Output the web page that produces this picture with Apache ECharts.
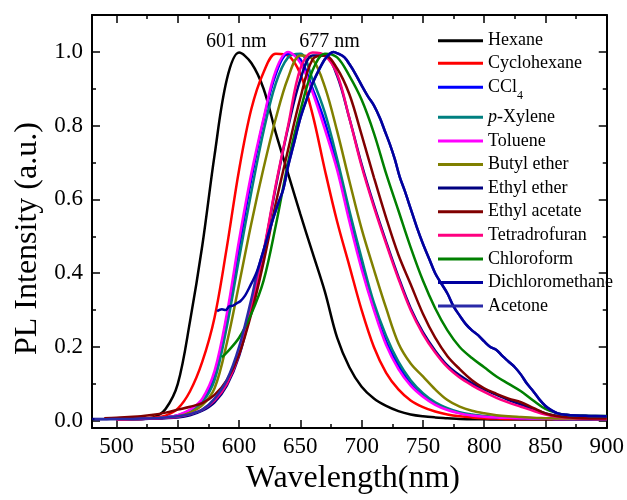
<!DOCTYPE html>
<html>
<head>
<meta charset="utf-8">
<script src="https://cdn.jsdelivr.net/npm/echarts@6/dist/echarts.min.js"></script>
<style>
html,body{margin:0;padding:0;background:#fff;}
#chart{width:627px;height:500px;}
</style>
</head>
<body>
<div id="chart"></div>
<script>
// ---- data ----
const wl = [480,490,500,510,520,530,540,550,560,570,580,590,600,610,620,630,640,650,660,670,680,690,700,710,720,730,740,750,760,770,780,790,800,810,820,830,840,850,860,870,880,890,900];

const hexane       = [null,null,0.003,0.004,0.005,0.009,0.032,0.10,0.27,0.475,0.72,0.925,0.998,0.97,0.90,0.78,0.67,0.56,0.455,0.35,0.225,0.145,0.092,0.06,0.04,0.026,0.017,0.012,0.009,0.007,0.005,0.004,0.004,0.003,0.003,0.003,0.003,0.003,0.003,0.003,0.003,0.003,0.003];
const cyclohexane  = [null,null,0.004,0.005,0.006,0.008,0.014,0.033,0.08,0.16,0.28,0.47,0.68,0.845,0.945,0.995,0.99,0.94,0.83,0.68,0.54,0.42,0.30,0.20,0.13,0.085,0.055,0.037,0.025,0.017,0.012,0.009,0.007,0.006,0.005,0.005,0.005,0.005,0.005,0.005,0.005,0.005,0.005];
const ccl4         = [null,null,0.003,0.004,0.005,0.006,0.009,0.014,0.028,0.055,0.125,0.28,0.47,0.655,0.815,0.94,0.995,0.98,0.90,0.81,0.69,0.55,0.42,0.305,0.215,0.15,0.10,0.068,0.046,0.031,0.021,0.015,0.012,0.009,0.008,0.007,0.006,0.006,0.005,0.005,0.005,0.005,0.005];
const pXylene      = [null,null,0.003,0.004,0.005,0.006,0.009,0.014,0.027,0.05,0.11,0.255,0.44,0.62,0.785,0.915,0.985,0.995,0.925,0.835,0.71,0.57,0.44,0.32,0.23,0.16,0.11,0.075,0.05,0.034,0.023,0.017,0.013,0.01,0.009,0.008,0.007,0.006,0.006,0.005,0.005,0.005,0.005];
const toluene      = [null,null,0.003,0.004,0.005,0.006,0.009,0.015,0.03,0.06,0.135,0.29,0.49,0.67,0.82,0.95,1.0,0.97,0.89,0.79,0.68,0.54,0.41,0.30,0.205,0.14,0.095,0.065,0.043,0.029,0.02,0.014,0.011,0.009,0.008,0.007,0.006,0.006,0.005,0.005,0.005,0.005,0.005];
const butylEther   = [null,null,0.003,0.004,0.005,0.006,0.008,0.012,0.022,0.042,0.088,0.21,0.37,0.535,0.685,0.82,0.93,0.99,0.98,0.905,0.785,0.65,0.52,0.41,0.305,0.21,0.155,0.12,0.085,0.056,0.038,0.027,0.02,0.015,0.012,0.01,0.008,0.007,0.006,0.006,0.006,0.006,0.006];
const ethylEther   = [0.005,0.005,0.005,0.005,0.005,0.006,0.007,0.009,0.015,0.027,0.05,0.095,0.175,0.305,0.455,0.635,0.795,0.925,0.99,0.99,0.935,0.82,0.695,0.585,0.485,0.39,0.305,0.24,0.19,0.15,0.123,0.102,0.085,0.07,0.056,0.044,0.032,0.02,0.013,0.009,0.007,0.006,0.006];
const ethylAcetate = [null,0.007,0.008,0.01,0.012,0.016,0.022,0.03,0.038,0.048,0.07,0.11,0.18,0.29,0.43,0.59,0.735,0.875,0.98,0.99,0.955,0.885,0.775,0.66,0.55,0.45,0.37,0.29,0.225,0.175,0.14,0.11,0.088,0.073,0.06,0.05,0.035,0.02,0.012,0.009,0.007,0.006,0.006];
const thf          = [null,null,0.003,0.004,0.005,0.006,0.008,0.011,0.018,0.03,0.055,0.10,0.18,0.31,0.46,0.64,0.80,0.955,0.998,0.99,0.94,0.82,0.69,0.58,0.48,0.385,0.30,0.235,0.185,0.145,0.117,0.096,0.078,0.062,0.049,0.038,0.027,0.017,0.011,0.008,0.006,0.005,0.005];

const chloroformX = [586,590,600,610,620,630,640,650,660,670,680,690,700,710,720,730,740,750,760,770,780,790,800,810,820,830,840,850,860,870,880,890,900];
const chloroformY = [0.172,0.185,0.225,0.29,0.38,0.53,0.70,0.84,0.95,0.995,0.985,0.935,0.87,0.78,0.67,0.57,0.47,0.38,0.305,0.245,0.20,0.17,0.145,0.12,0.10,0.08,0.055,0.032,0.02,0.015,0.014,0.013,0.013];

const dcmX = [582,586,589,592,595,598,601,605,609,614,618,622,627,632,636,640,644,650,655,660,665,670,674,677,681,686,690,695,701,705,710,715,719,723,727,731,735,740,745,750,755,760,765,770,775,780,785,790,795,800,805,810,815,820,825,830,835,840,845,850,855,860,867,875,885,900];
const dcmY = [0.297,0.302,0.30,0.31,0.312,0.318,0.324,0.34,0.365,0.40,0.44,0.484,0.54,0.59,0.627,0.69,0.742,0.82,0.87,0.915,0.95,0.98,0.995,1.0,0.995,0.985,0.967,0.94,0.903,0.88,0.855,0.82,0.785,0.75,0.71,0.662,0.625,0.575,0.525,0.48,0.44,0.40,0.372,0.345,0.31,0.285,0.262,0.245,0.232,0.215,0.2,0.192,0.175,0.16,0.145,0.125,0.10,0.08,0.058,0.04,0.028,0.02,0.016,0.014,0.013,0.012];

const acetoneX = [482,490,500,510,520,530,540,550,560,570,580,590,600,610,614,618,622,627,632,636,640,644,650,655,660,665,670,674,677,681,686,690,695,701,705,710,715,719,723,727,731,735,740,745,750,755,760,765,770,775,780,785,790,795,800,805,810,815,820,825,830,835,840,845,850,855,860,867,875,885,900];
const acetoneY = [0.004,0.004,0.005,0.005,0.006,0.007,0.009,0.012,0.018,0.03,0.06,0.11,0.2,0.33,0.39,0.44,0.484,0.54,0.59,0.627,0.69,0.742,0.82,0.87,0.915,0.95,0.98,0.995,1.0,0.995,0.985,0.967,0.94,0.903,0.88,0.855,0.82,0.785,0.75,0.71,0.662,0.625,0.575,0.525,0.48,0.44,0.40,0.372,0.345,0.31,0.285,0.262,0.245,0.232,0.215,0.2,0.192,0.175,0.16,0.145,0.125,0.10,0.08,0.058,0.04,0.028,0.02,0.016,0.014,0.013,0.012];

const legendNames = ['Hexane','Cyclohexane','CCl4','p-Xylene','Toluene','Butyl ether','Ethyl ether','Ethyl acetate','Tetradrofuran','Chloroform','Dichloromethane','Acetone'];
const colors = {
  'Hexane':'#000000','Cyclohexane':'#ff0000','CCl4':'#0000ff','p-Xylene':'#008080','Toluene':'#ff00ff',
  'Butyl ether':'#808000','Ethyl ether':'#000080','Ethyl acetate':'#800000','Tetradrofuran':'#ff0080',
  'Chloroform':'#008000','Dichloromethane':'#0000a0','Acetone':'#2a2aa8'
};

const xMajorTicks = [500,550,600,650,700,750,800,850,900];
const xMinorTicks = [525,575,625,675,725,775,825,875];
const yMajorTicks = [0,0.2,0.4,0.6,0.8,1.0];
const yMinorTicks = [0.1,0.3,0.5,0.7,0.9];

const peakLabels = ['601 nm','677 nm'];
const peakX = [601,677];
const peakY = [1.0,1.0];

// ---- build ----
function pairs(xs, ys){ const out=[]; for(let i=0;i<xs.length;i++){ if(ys[i]!==null) out.push([xs[i], ys[i]]); } return out; }
const FONT = '"Liberation Serif","Times New Roman",serif';

const seriesData = [
  ['Hexane', pairs(wl, hexane)],
  ['Cyclohexane', pairs(wl, cyclohexane)],
  ['CCl4', pairs(wl, ccl4)],
  ['p-Xylene', pairs(wl, pXylene)],
  ['Toluene', pairs(wl, toluene)],
  ['Butyl ether', pairs(wl, butylEther)],
  ['Ethyl ether', pairs(wl, ethylEther)],
  ['Tetradrofuran', pairs(wl, thf)],
  ['Ethyl acetate', pairs(wl, ethylAcetate)],
  ['Chloroform', pairs(chloroformX, chloroformY)],
  ['Acetone', pairs(acetoneX, acetoneY)],
  ['Dichloromethane', pairs(dcmX, dcmY)]
];

const series = seriesData.map(([name, data]) => ({
  name, type:'line', data, showSymbol:false, symbol:'none', smooth:0.35,
  xAxisIndex:0, yAxisIndex:0,
  lineStyle:{color:colors[name], width:2.5},
  itemStyle:{color:colors[name]},
  emphasis:{disabled:true}, animation:false, z:2
}));

const lineOn = {show:true, onZero:false, lineStyle:{color:'#000', width:2}};
const lineOff = {show:false, onZero:false};
function xAx(pos, ticks, len, labels, showLine){
  return {type:'value', position:pos, min:480, max:900,
    axisLine: showLine ? lineOn : lineOff,
    axisTick:{show:true, inside:true, length:len, customValues:ticks, lineStyle:{color:'#000', width:1.5}},
    axisLabel: labels ? {show:true, customValues:labels, fontFamily:FONT, fontSize:23, color:'#000', margin:7} : {show:false},
    splitLine:{show:false}};
}
function yAx(pos, ticks, len, labels, showLine){
  return {type:'value', position:pos, min:-0.02, max:1.1,
    axisLine: showLine ? lineOn : lineOff,
    axisTick:{show:true, inside:true, length:len, customValues:ticks, lineStyle:{color:'#000', width:1.5}},
    axisLabel: labels ? {show:true, customValues:labels, fontFamily:FONT, fontSize:23, color:'#000', margin:9, formatter:v=>v.toFixed(1)} : {show:false},
    splitLine:{show:false}};
}

const xAxes = [
  Object.assign(xAx('bottom', xMajorTicks, 8, xMajorTicks, true), {name:'Wavelength(nm)', nameLocation:'middle', nameGap:20,
    nameTextStyle:{fontFamily:FONT, fontSize:32, color:'#000', padding:[0,0,0,7]}}),
  xAx('bottom', xMinorTicks, 4, null, false),
  xAx('top', xMajorTicks, 8, null, true),
  xAx('top', xMinorTicks, 4, null, false)
];
const yAxes = [
  Object.assign(yAx('left', yMajorTicks, 8, yMajorTicks, true), {name:'PL Intensity (a.u.)', nameLocation:'middle', nameGap:46,
    nameTextStyle:{fontFamily:FONT, fontSize:32, color:'#000', padding:[0,34,0,0]}}),
  yAx('left', yMinorTicks, 4, null, false),
  yAx('right', yMajorTicks, 8, null, true),
  yAx('right', yMinorTicks, 4, null, false)
];

const legendText = {fontFamily:FONT, fontSize:18, color:'#000', lineHeight:20,
  rich:{
    a:{fontFamily:FONT, fontSize:18, color:'#000', lineHeight:20},
    s:{fontFamily:FONT, fontSize:12, color:'#000', lineHeight:12, padding:[18,0,0,0]},
    i:{fontFamily:FONT, fontSize:18, color:'#000', lineHeight:20, fontStyle:'italic'}
  }};
function legendFmt(name){
  if(name==='CCl4') return '{a|CCl}{s|4}';
  if(name==='p-Xylene') return '{i|p}-Xylene';
  return name;
}
function mkLegend(data, top, gap){
  return {data, orient:'vertical', left:438, top, padding:0, itemGap:gap, itemWidth:45, itemHeight:3,
    icon:'rect', selectedMode:false, formatter:legendFmt, textStyle:legendText};
}

const chart = echarts.init(document.getElementById('chart'), null, {renderer:'canvas'});
chart.setOption({
  backgroundColor:'#fff',
  animation:false,
  grid:{left:92, right:20, top:15, bottom:65, containLabel:false},
  xAxis:xAxes,
  yAxis:yAxes,
  legend:[
    mkLegend(legendNames.slice(0,2), 30.7, 2.6),
    mkLegend(legendNames.slice(2,3), 72.3, 0),
    mkLegend(legendNames.slice(3), 107.3, 3.6)
  ],
  series
});

const g = peakLabels.map((t,i)=>{
  const p = chart.convertToPixel({xAxisIndex:0, yAxisIndex:0}, [peakX[i], peakY[i]]);
  return {type:'text', x:p[0]-4, y:p[1]-10, z:10,
    style:{text:t, fontFamily:FONT, fontSize:20, fill:'#000', align:'center', verticalAlign:'middle'}};
});
chart.setOption({graphic:g});
</script>
</body>
</html>
